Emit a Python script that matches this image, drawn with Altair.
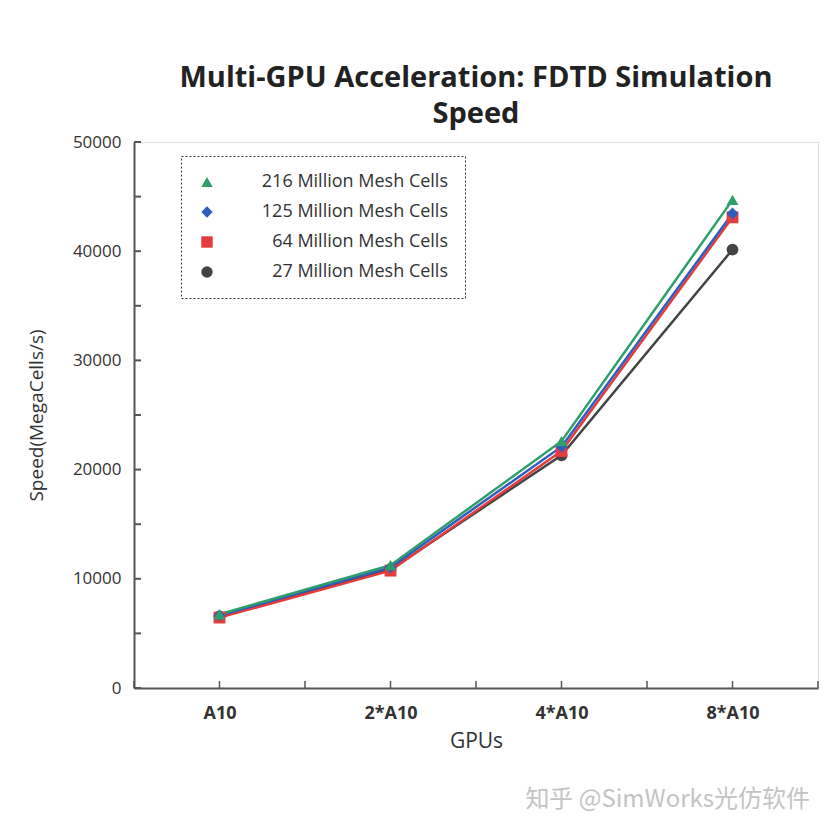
import json
import altair as alt
import pandas as pd

# ---- data ----
gpus = ["A10", "2*A10", "4*A10", "8*A10"]
series = ["216 Million Mesh Cells", "125 Million Mesh Cells",
          " 64 Million Mesh Cells", " 27 Million Mesh Cells"]
speed_216 = [6750, 11250, 22600, 44700]
speed_125 = [6650, 11050, 22100, 43450]
speed_64 = [6450, 10750, 21700, 43100]
speed_27 = [6550, 10850, 21300, 40150]

colors = ["#2e9e6a", "#2f5cbf", "#e23c3c", "#444444"]
shapes = ["triangle-up", "diamond", "square", "circle"]

y_tick_values = list(range(0, 50001, 5000))
x_tick_values = [-0.5, 0, 0.5, 1, 1.5, 2, 2.5, 3, 3.5]

rows = []
for name, vals in [(series[3], speed_27), (series[2], speed_64),
                   (series[1], speed_125), (series[0], speed_216)]:
    for i, (g, v) in enumerate(zip(gpus, vals)):
        rows.append({"series": name, "gpu": g, "idx": i, "speed": v})
df = pd.DataFrame(rows)

W, H = 684, 546
FONT = "Open Sans"

label_expr = json.dumps(gpus) + "[datum.value]"
x_scale = alt.Scale(domain=[-0.5, 3.5], nice=False, zero=False)
y_scale = alt.Scale(domain=[0, 50000], nice=False)

x_enc = alt.X("idx:Q", scale=x_scale,
              axis=alt.Axis(values=[0, 1, 2, 3], labelExpr=label_expr,
                            title="GPUs", ticks=False, grid=False,
                            labelFontSize=18, labelFontWeight="bold",
                            labelColor="#333333", labelPadding=16,
                            titleFontSize=21, titleFontWeight="normal",
                            titleColor="#333333", titlePadding=8,
                            domainColor="#555555", domainWidth=2,
                            labelFont=FONT, titleFont=FONT))
y_enc = alt.Y("speed:Q", scale=y_scale,
              axis=alt.Axis(values=list(range(0, 50001, 10000)), format="d",
                            title="Speed(MegaCells/s)", ticks=False,
                            grid=False, labelFontSize=17,
                            labelColor="#333333", labelPadding=13,
                            titleFontSize=19, titleFontWeight="normal",
                            titleColor="#333333", titlePadding=26,
                            domainColor="#555555", domainWidth=2,
                            labelFont=FONT, titleFont=FONT))

color_enc = alt.Color("series:N",
                      scale=alt.Scale(domain=series, range=colors),
                      legend=alt.Legend(title=None, orient="none",
                                        legendX=47, legendY=14,
                                        strokeColor="#333333",
                                        padding=17, rowPadding=12,
                                        labelFontSize=18, labelFont=FONT,
                                        labelColor="#333333",
                                        labelAlign="right",
                                        labelOffset=232, labelLimit=400,
                                        symbolSize=130,
                                        symbolStrokeWidth=0))
shape_enc = alt.Shape("series:N",
                      scale=alt.Scale(domain=series, range=shapes),
                      legend=None)

base = alt.Chart(df)

lines = base.mark_line(strokeWidth=2.5).encode(
    x=x_enc, y=y_enc, color=color_enc,
    detail="series:N", order="idx:Q")

points = base.mark_point(filled=True, size=140, opacity=1).encode(
    x=x_enc, y=y_enc, color=color_enc, shape=shape_enc)

ytick_df = pd.DataFrame({"speed": y_tick_values})
xtick_df = pd.DataFrame({"idx": x_tick_values})

yticks = alt.Chart(ytick_df).mark_tick(
    color="#555555", thickness=2, size=7, orient="horizontal", opacity=1).encode(
    y=alt.Y("speed:Q", scale=y_scale),
    x=alt.value(3.5))

xticks = alt.Chart(xtick_df).mark_rule(color="#555555", strokeWidth=1.5).encode(
    x=alt.X("idx:Q", scale=x_scale),
    y=alt.value(H), y2=alt.value(H - 7))

watermark = alt.Chart(pd.DataFrame({"t": ["知乎 @SimWorks光仿软件"]})).mark_text(
    align="right", baseline="middle", fontSize=24, color="#c4c4c4",
    font="Noto Sans CJK SC").encode(
    text="t:N", x=alt.value(676), y=alt.value(658))

chart = alt.layer(lines, points, xticks, yticks, watermark).properties(
    width=W, height=H,
    title=alt.TitleParams(
        text=["Multi-GPU Acceleration: FDTD Simulation", "Speed"],
        fontSize=29, font=FONT, fontWeight="bold", color="#222222",
        anchor="middle", lineHeight=36, offset=4),
    padding={"left": 126, "top": 134, "right": 4, "bottom": 150},
    autosize=alt.AutoSizeParams(type="none"),
).configure_view(stroke="#555555", strokeWidth=2).configure(
    background="white"
).configure_legend(strokeDash=[2, 2])

chart.save("out.html", embed_options={"renderer": "svg", "actions": False})
